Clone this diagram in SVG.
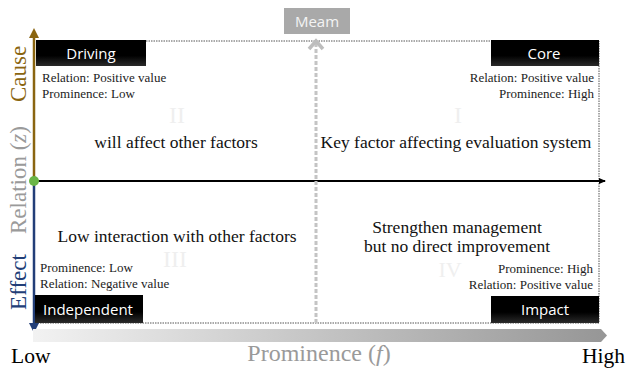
<svg xmlns="http://www.w3.org/2000/svg" width="627" height="369" viewBox="0 0 627 369">
<style>
.serif{font-family:"Liberation Serif","Times New Roman",serif;}
.sans{font-family:"Open Sans","Liberation Sans",sans-serif;}
.small{font-size:13px;fill:#222;}
.mid{font-size:17.5px;fill:#111;}
.roman{font-size:24px;fill:#efefef;}
.lbl{font-size:15px;fill:#fff;}
.frame{fill:none;stroke:#555;stroke-width:1;stroke-dasharray:1.5 1;}
</style>
<defs>
<linearGradient id="blk" x1="0" y1="0" x2="0" y2="1">
<stop offset="0" stop-color="#000"/><stop offset="0.6" stop-color="#000"/><stop offset="1" stop-color="#2a2a2a"/>
</linearGradient>
<linearGradient id="bar" x1="0" y1="0" x2="1" y2="0">
<stop offset="0" stop-color="#f2f2f2"/><stop offset="1" stop-color="#969696"/>
</linearGradient>
<marker id="arrBlack" markerWidth="8" markerHeight="8" refX="6" refY="4" orient="auto" markerUnits="userSpaceOnUse">
<path d="M0,1 L7,4 L0,7 Z" fill="#000"/>
</marker>
</defs>
<g id="frame">
<path class="frame" d="M36,41 H599 V323 H34"/>
</g>
<g id="connectors">
<line x1="34" y1="181" x2="34" y2="36" stroke="#8a6510" stroke-width="2.5"/>
<path d="M29,38 L34,28 L39,38 Z" fill="#8a6510"/>
<line x1="34" y1="181" x2="34" y2="325" stroke="#223e78" stroke-width="2.5"/>
<path d="M29,323 L34,333 L39,323 Z" fill="#223e78"/>
<line x1="34" y1="181" x2="605" y2="181" stroke="#000" stroke-width="1.8" marker-end="url(#arrBlack)"/>
<line x1="316" y1="323" x2="316" y2="44" stroke="#c4c4c4" stroke-width="3" stroke-dasharray="4 2"/>
<path d="M309,49 L316,41 L323,49" fill="none" stroke="#bdbdbd" stroke-width="3.5"/>
<path d="M33,329 H601 L607,335.5 L601,342 H33 Z" fill="url(#bar)"/>
<circle cx="34" cy="181" r="5" fill="#6ab547"/>
</g>
<g id="meam">
<rect x="284" y="8" width="66" height="26" fill="#a9a9a9"/>
<text x="317" y="27" class="sans" font-size="15" fill="#f4f4f4" text-anchor="middle">Meam</text>
</g>
<g id="driving">
<rect x="36" y="40" width="110" height="26" fill="url(#blk)"/>
<text x="91" y="59" class="sans lbl" text-anchor="middle">Driving</text>
<text x="42" y="82" class="serif small">Relation: Positive value</text>
<text x="42" y="98" class="serif small">Prominence: Low</text>
<text x="177" y="123" class="serif roman" text-anchor="middle">II</text>
<text x="176" y="148" class="serif mid" text-anchor="middle">will affect other factors</text>
</g>
<g id="core">
<rect x="491" y="40" width="108" height="26" fill="url(#blk)"/>
<text x="544" y="59" class="sans lbl" text-anchor="middle">Core</text>
<text x="594" y="82" class="serif small" text-anchor="end">Relation: Positive value</text>
<text x="594" y="98" class="serif small" text-anchor="end">Prominence: High</text>
<text x="458" y="123" class="serif roman" text-anchor="middle">I</text>
<text x="456" y="148" class="serif mid" text-anchor="middle">Key factor affecting evaluation system</text>
</g>
<g id="independent">
<text x="175" y="267" class="serif roman" text-anchor="middle">III</text>
<text x="177" y="242" class="serif mid" text-anchor="middle">Low interaction with other factors</text>
<text x="40" y="272" class="serif small">Prominence: Low</text>
<text x="40" y="288" class="serif small">Relation: Negative value</text>
<rect x="35" y="295" width="108" height="28" fill="url(#blk)"/>
<text x="88" y="315" class="sans lbl" text-anchor="middle">Independent</text>
</g>
<g id="impact">
<text x="450" y="277" class="serif" font-size="22" fill="#efefef" text-anchor="middle">IV</text>
<text x="457" y="233" class="serif mid" text-anchor="middle">Strengthen management</text>
<text x="457" y="252" class="serif mid" text-anchor="middle">but no direct improvement</text>
<text x="593" y="273" class="serif small" text-anchor="end">Prominence: High</text>
<text x="593" y="289" class="serif small" text-anchor="end">Relation: Positive value</text>
<rect x="491" y="296" width="108" height="27" fill="url(#blk)"/>
<text x="545" y="315" class="sans lbl" text-anchor="middle">Impact</text>
</g>
<g id="axis-labels">
<text transform="translate(26,74) rotate(-90)" class="serif" font-size="23" fill="#8a6510" text-anchor="middle">Cause</text>
<text transform="translate(26,180) rotate(-90)" class="serif" font-size="23" fill="#9a9a9a" text-anchor="middle">Relation (<tspan font-style="italic">z</tspan>)</text>
<text transform="translate(26,282) rotate(-90)" class="serif" font-size="23" fill="#223e78" text-anchor="middle">Effect</text>
<text x="11" y="363" class="serif" font-size="21.5" fill="#000">Low</text>
<text x="625" y="363" class="serif" font-size="21.5" fill="#000" text-anchor="end">High</text>
<text x="319" y="361" class="serif" font-size="24" fill="#9a9a9a" text-anchor="middle">Prominence (<tspan font-style="italic">f</tspan>)</text>
</g>
</svg>
